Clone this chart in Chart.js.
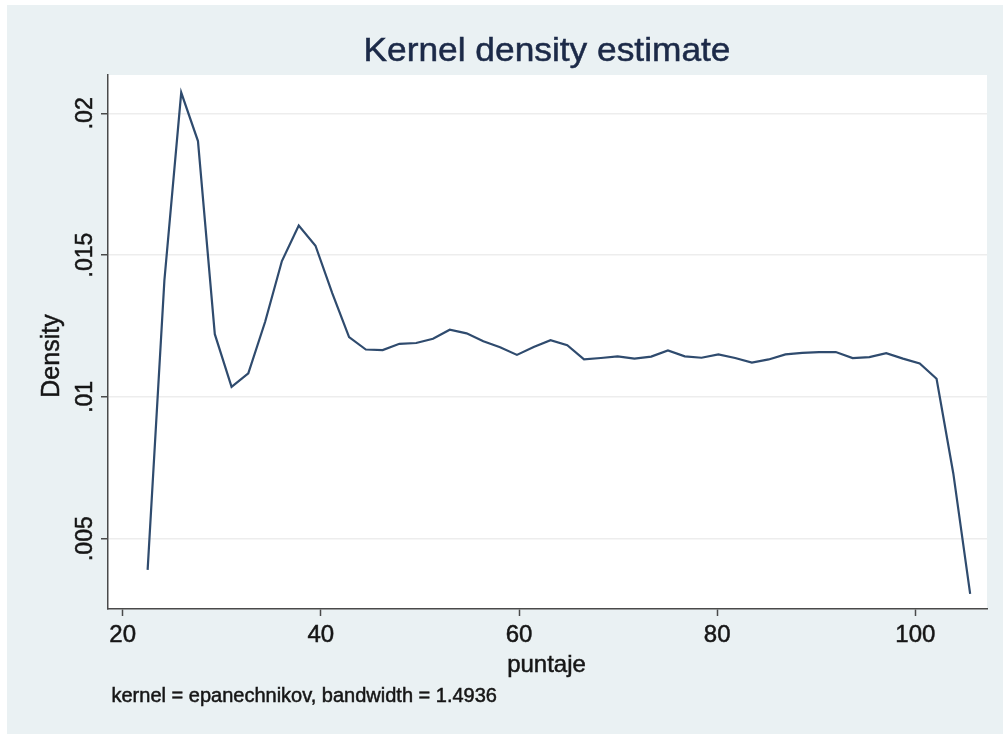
<!DOCTYPE html>
<html>
<head>
<meta charset="utf-8">
<script src="https://cdn.jsdelivr.net/npm/chart.js@4"></script>
<style>
  html, body { margin: 0; padding: 0; background: #fff; }
  #wrap { width: 1003px; height: 734px; }
</style>
</head>
<body>
<div id="wrap"><canvas id="chart" width="1003" height="734"></canvas></div>
<script>
// kdensity grid (50 points)
const puntaje = [22.52, 24.21, 25.91, 27.60, 29.30, 30.99, 32.68, 34.38, 36.07, 37.77,
                 39.46, 41.15, 42.85, 44.54, 46.24, 47.93, 49.62, 51.32, 53.01, 54.71,
                 56.40, 58.09, 59.79, 61.48, 63.18, 64.87, 66.56, 68.26, 69.95, 71.65,
                 73.34, 75.03, 76.73, 78.42, 80.12, 81.81, 83.50, 85.20, 86.89, 88.59,
                 90.28, 91.97, 93.67, 95.36, 97.06, 98.75, 100.44, 102.14, 103.83, 105.53];
const density = [0.00390, 0.01410, 0.02073, 0.01902, 0.01221, 0.01035, 0.01083, 0.01265, 0.01479, 0.01604,
                 0.01533, 0.01366, 0.01211, 0.01167, 0.01165, 0.01187, 0.01190, 0.01205, 0.01237, 0.01224,
                 0.01196, 0.01175, 0.01148, 0.01176, 0.01200, 0.01182, 0.01132, 0.01137, 0.01143, 0.01135,
                 0.01142, 0.01164, 0.01143, 0.01138, 0.01150, 0.01137, 0.01121, 0.01132, 0.01150, 0.01155,
                 0.01158, 0.01158, 0.01137, 0.01140, 0.01154, 0.01135, 0.01118, 0.01064, 0.00730, 0.00305];

const xTicks = [20, 40, 60, 80, 100];
const yTicks = [0.005, 0.01, 0.015, 0.02];
const yTickLabels = ['.005', '.01', '.015', '.02'];

const titleText = 'Kernel density estimate';
const xTitle = 'puntaje';
const yTitle = 'Density';
const noteText = 'kernel = epanechnikov, bandwidth = 1.4936';

const FONT = '"Liberation Sans", Arial, sans-serif';

// text on the alphabetic baseline, optionally rotated / stretched, slightly heavier
function drawText(ctx, str, x, y, size, o) {
    o = o || {};
    ctx.save();
    ctx.translate(x, y);
    if (o.rotate) ctx.rotate(o.rotate);
    ctx.scale(o.sx || 1, 1);
    ctx.font = size + 'px ' + FONT;
    ctx.fillStyle = o.color || '#161616';
    ctx.strokeStyle = o.color || '#161616';
    ctx.lineWidth = 0.5;
    ctx.textAlign = o.align || 'center';
    ctx.textBaseline = 'alphabetic';
    ctx.fillText(str, 0, 0);
    ctx.strokeText(str, 0, 0);
    ctx.restore();
}

const stataLook = {
    id: 'stataLook',
    beforeDraw(chart) {
        const ctx = chart.ctx;
        const a = chart.chartArea;
        ctx.save();
        ctx.fillStyle = '#ffffff';
        ctx.fillRect(0, 0, chart.width, chart.height);
        ctx.fillStyle = '#eaf1f3';
        ctx.fillRect(7, 5, chart.width - 7, chart.height - 5);
        ctx.fillStyle = '#ffffff';
        ctx.fillRect(a.left, a.top, a.right - a.left, a.bottom - a.top);
        ctx.restore();
    },
    afterDraw(chart) {
        const ctx = chart.ctx;
        const xs = chart.scales.x;
        const ys = chart.scales.y;

        drawText(ctx, titleText, 547, 60.5, 33, { color: '#1c2a48', sx: 1.07 });

        yTicks.forEach((v, i) => {
            drawText(ctx, yTickLabels[i], 91.5, ys.getPixelForValue(v), 23, { rotate: -Math.PI / 2 });
        });
        drawText(ctx, yTitle, 59, 356, 25, { rotate: -Math.PI / 2 });

        xTicks.forEach(v => {
            drawText(ctx, String(v), xs.getPixelForValue(v), 642, 24);
        });
        drawText(ctx, xTitle, 546.5, 672, 24);

        drawText(ctx, noteText, 111.5, 701.5, 20, { align: 'left' });
    }
};

new Chart(document.getElementById('chart'), {
    type: 'scatter',
    data: {
        datasets: [{
            data: puntaje.map((x, i) => ({ x: x, y: density[i] })),
            showLine: true,
            borderColor: '#2f4b6e',
            borderWidth: 2.2,
            pointRadius: 0,
            tension: 0
        }]
    },
    options: {
        responsive: false,
        animation: false,
        layout: { padding: { top: 75, right: 16, left: 0, bottom: 0 } },
        plugins: {
            legend: { display: false },
            tooltip: { enabled: false },
            title: { display: false }
        },
        scales: {
            x: {
                type: 'linear',
                min: 18.52,
                max: 107.23,
                afterBuildTicks: s => { s.ticks = xTicks.map(v => ({ value: v })); },
                afterFit: s => { s.height = 125; },
                ticks: { display: false },
                grid: { drawOnChartArea: false, drawTicks: true, tickLength: 7, tickColor: '#4a4a4a', tickWidth: 1.5 },
                border: { display: true, color: '#4a4a4a', width: 1.5 }
            },
            y: {
                min: 0.00252,
                max: 0.02135,
                afterBuildTicks: s => { s.ticks = yTicks.map(v => ({ value: v })); },
                afterFit: s => { s.width = 108; },
                ticks: { display: false },
                grid: { color: '#ededed', lineWidth: 1.5, drawTicks: true, tickLength: 7, tickColor: '#4a4a4a', tickWidth: 1.5 },
                border: { display: true, color: '#4a4a4a', width: 1.5 }
            }
        }
    },
    plugins: [stataLook]
});
</script>
</body>
</html>
